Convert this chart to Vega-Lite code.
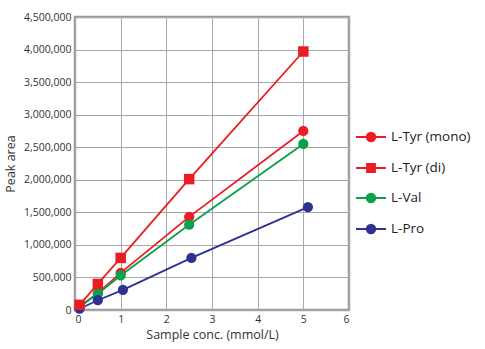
{
  "$schema": "https://vega.github.io/schema/vega-lite/v6.json",
  "width": 274,
  "height": 293,
  "autosize": "none",
  "padding": {"left": 75, "top": 17, "right": 136, "bottom": 39},
  "background": "white",
  "config": {
    "font": "Open Sans",
    "view": {"stroke": "#9a9a9a", "strokeWidth": 2.5},
    "axis": {"gridColor": "#a8a8a8", "gridWidth": 1, "gridOpacity": 1, "domain": false, "ticks": false, "labelColor": "#333", "labelFontSize": 10.5, "titleColor": "#333", "titleFontWeight": "normal", "titleFontSize": 12.5, "labelPadding": 4}
  },
  "data": {"values": [
    {"s": "L-Tyr (mono)", "x": 0.1, "y": 50000},
    {"s": "L-Tyr (mono)", "x": 0.5, "y": 260000},
    {"s": "L-Tyr (mono)", "x": 1.0, "y": 570000},
    {"s": "L-Tyr (mono)", "x": 2.5, "y": 1430000},
    {"s": "L-Tyr (mono)", "x": 5.0, "y": 2750000},
    {"s": "L-Tyr (di)", "x": 0.1, "y": 80000},
    {"s": "L-Tyr (di)", "x": 0.5, "y": 400000},
    {"s": "L-Tyr (di)", "x": 1.0, "y": 800000},
    {"s": "L-Tyr (di)", "x": 2.5, "y": 2010000},
    {"s": "L-Tyr (di)", "x": 5.0, "y": 3970000},
    {"s": "L-Val", "x": 0.1, "y": 50000},
    {"s": "L-Val", "x": 0.5, "y": 250000},
    {"s": "L-Val", "x": 1.0, "y": 530000},
    {"s": "L-Val", "x": 2.5, "y": 1310000},
    {"s": "L-Val", "x": 5.0, "y": 2550000},
    {"s": "L-Pro", "x": 0.1, "y": 20000},
    {"s": "L-Pro", "x": 0.5, "y": 150000},
    {"s": "L-Pro", "x": 1.05, "y": 310000},
    {"s": "L-Pro", "x": 2.55, "y": 800000},
    {"s": "L-Pro", "x": 5.1, "y": 1580000}
  ]},
  "encoding": {
    "x": {"field": "x", "type": "quantitative", "scale": {"domain": [0, 6], "nice": false}, "axis": {"values": [0,1,2,3,4,5,6], "title": "Sample conc. (mmol/L)", "titlePadding": 4}},
    "y": {"field": "y", "type": "quantitative", "scale": {"domain": [0, 4500000], "nice": false}, "axis": {"values": [0,500000,1000000,1500000,2000000,2500000,3000000,3500000,4000000,4500000], "format": ",d", "title": "Peak area", "titlePadding": 6}},
    "color": {"field": "s", "type": "nominal", "scale": {"domain": ["L-Tyr (mono)", "L-Tyr (di)", "L-Val", "L-Pro"], "range": ["#ec1c24", "#ec1c24", "#0aa14b", "#2e3192"]},
      "legend": {
         "title": null, "orient": "none", "legendX": 280, "legendY": 104,
         "symbolSize": 900, "symbolType": "M-1,0H1M0.28,0A0.28,0.28 0 1,1 -0.28,0A0.28,0.28 0 1,1 0.28,0Z",
         "symbolStrokeWidth": 2, "labelFontSize": 13.5, "labelColor": "#222", "rowPadding": 6, "labelOffset": 4,
         "encode": {"symbols": {"update": {"shape": {"signal": "datum.value == 'L-Tyr (di)' ? 'M-1,0H1M0.26,-0.26H-0.26V0.26H0.26Z' : 'M-1,0H1M0.28,0A0.28,0.28 0 1,1 -0.28,0A0.28,0.28 0 1,1 0.28,0Z'"}}}}
       }}
  },
  "layer": [
    {"mark": {"type": "line", "strokeWidth": 1.8}},
    {"transform": [{"filter": "datum.s != 'L-Tyr (di)'"}], "mark": {"type": "circle", "opacity": 1, "size": 105}},
    {"transform": [{"filter": "datum.s == 'L-Tyr (di)'"}], "mark": {"type": "square", "opacity": 1, "size": 110}}
  ]
}
